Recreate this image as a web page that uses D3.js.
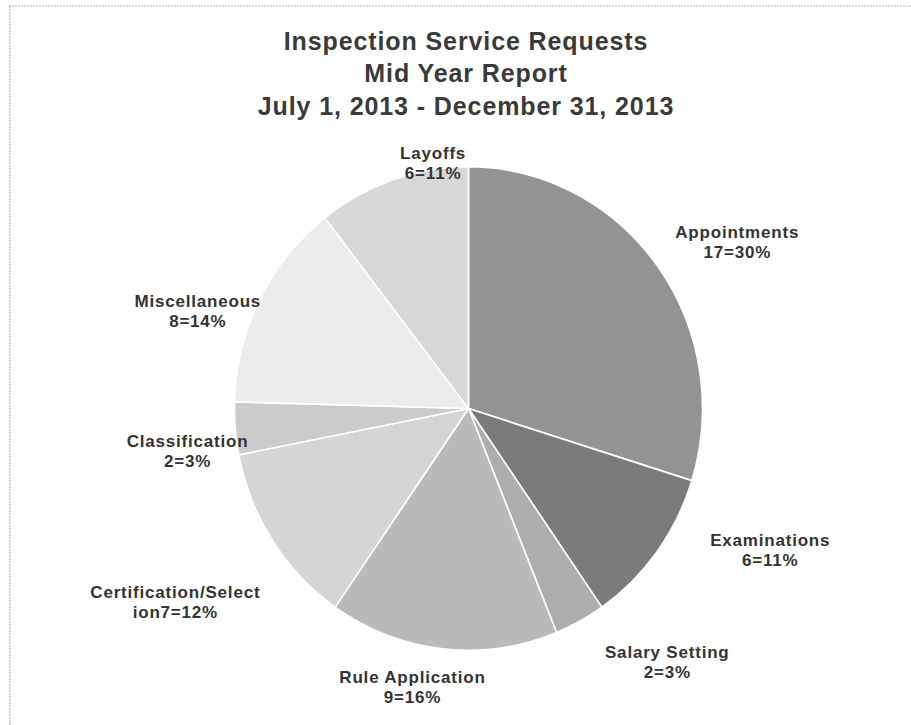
<!DOCTYPE html>
<html>
<head>
<meta charset="utf-8">
<script src="https://cdn.jsdelivr.net/npm/d3@7"></script>
<style>
  body { margin: 0; background: #fff; }
  svg text { font-family: "Liberation Sans", Arial, sans-serif; font-weight: bold; }
</style>
</head>
<body>
<svg id="chart" width="911" height="725"></svg>
<script>
// data
const categories = ['Appointments', 'Examinations', 'Salary Setting', 'Rule Application',
    'Certification/Select', 'Classification', 'Miscellaneous', 'Layoffs'];
const counts = [17, 6, 2, 9, 7, 2, 8, 6];
const percents = [30, 11, 3, 16, 12, 3, 14, 11];
const titleLines = ['Inspection Service Requests', 'Mid Year Report', 'July 1, 2013 - December 31, 2013'];

// the second label line as printed (the cert label wraps oddly in the original)
const labelLine1 = ['Appointments', 'Examinations', 'Salary Setting', 'Rule Application',
    'Certification/Select', 'Classification', 'Miscellaneous', 'Layoffs'];
const labelLine2 = ['17=30%', '6=11%', '2=3%', '9=16%', 'ion7=12%', '2=3%', '8=14%', '6=11%'];

const sliceColors = ['#939393', '#7b7b7b', '#adadad', '#bababa', '#d5d5d5', '#cbcbcb', '#ececec', '#d7d7d7'];

// label nudges from the centroid of the label ring (Excel placed them by hand)
const labelNudge = [[27, 11], [60, -36], [56, -10], [-23, -20], [-42, 29], [18, 18], [-3, 38], [62, 38]];

const width = 911, height = 725;
const cx = 468.5, cy = 408.5;
const radius = 234;
const labelRadius = 300;

const svg = d3.select('#chart');

// dotted scan frame, top and left only
svg.append('line')
    .attr('x1', 9).attr('y1', 6).attr('x2', width).attr('y2', 6)
    .attr('stroke', '#b5b5b5').attr('stroke-width', 1.2).attr('stroke-dasharray', '2,1');
svg.append('line')
    .attr('x1', 10).attr('y1', 6).attr('x2', 10).attr('y2', height)
    .attr('stroke', '#b5b5b5').attr('stroke-width', 1.2).attr('stroke-dasharray', '2,1');

// title
svg.append('g').selectAll('text').data(titleLines).enter()
    .append('text')
        .attr('x', 466)
        .attr('y', (d, i) => [50, 82, 115][i])
        .attr('text-anchor', 'middle')
        .attr('font-size', '25px')
        .attr('letter-spacing', '0.9px')
        .attr('fill', '#3a3a3a')
        .text(d => d);

const pie = d3.pie().sort(null).value(d => d);
const arcs = pie(counts);

const arc = d3.arc().innerRadius(0).outerRadius(radius);
const labelArc = d3.arc().innerRadius(labelRadius).outerRadius(labelRadius);

// pie is a touch taller than wide in the scan
const pieG = svg.append('g')
    .attr('transform', `translate(${cx},${cy}) scale(1,1.033)`);

pieG.selectAll('path').data(arcs).enter()
    .append('path')
        .attr('d', arc)
        .attr('fill', (d, i) => sliceColors[i])
        .attr('stroke', '#fff')
        .attr('stroke-width', 1.6)
        .attr('stroke-linejoin', 'round');

// labels
const labelG = svg.append('g').attr('transform', `translate(${cx},${cy})`);
arcs.forEach((d, i) => {
    let c = labelArc.centroid(d);
    let x = c[0] + labelNudge[i][0];
    let y = c[1] + labelNudge[i][1];
    let t = labelG.append('text')
        .attr('text-anchor', 'middle')
        .attr('font-size', '17px')
        .attr('letter-spacing', '0.8px')
        .attr('fill', '#333');
    t.append('tspan').attr('x', x).attr('y', y - 4).text(labelLine1[i]);
    t.append('tspan').attr('x', x).attr('y', y + 16).text(labelLine2[i]);
});
</script>
</body>
</html>
